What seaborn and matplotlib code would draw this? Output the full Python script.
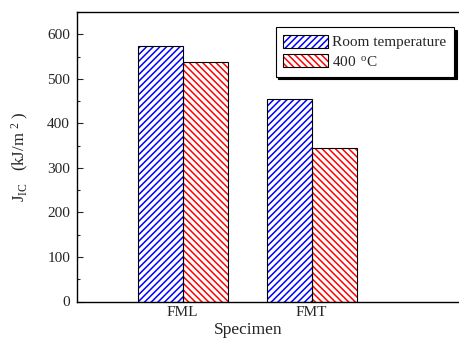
import matplotlib
matplotlib.use("Agg")
import matplotlib.pyplot as plt
import seaborn as sns
import pandas as pd
from matplotlib.patches import Patch
from matplotlib.legend_handler import HandlerTuple
from matplotlib.ticker import MultipleLocator

specimens = ["FML", "FMT"]
conditions = ["Room temperature", "400 $\\,^{\\rm o}$C"]
room_temp = [573, 454]
hot_400 = [537, 344]
colors = ["#0000ff", "#ff0000"]
hatches = ["/////", "\\\\\\\\\\"]

df = pd.DataFrame({
    "Specimen": specimens * 2,
    "Condition": [conditions[0]] * 2 + [conditions[1]] * 2,
    "J": room_temp + hot_400,
})

sns.set_theme(style="ticks")
plt.rcParams["font.family"] = ["Liberation Serif", "DejaVu Serif"]
plt.rcParams["mathtext.fontset"] = "custom"
plt.rcParams["mathtext.rm"] = "Liberation Serif"
plt.rcParams["mathtext.it"] = "Liberation Serif:italic"
plt.rcParams["hatch.linewidth"] = 1.1

fig = plt.figure(figsize=(4.6, 3.4), dpi=100)
ax = fig.add_axes([77 / 460, 38.5 / 340, 1 - 77 / 460, 289.5 / 340])

# hatched layer
sns.barplot(data=df, x="Specimen", y="J", hue="Condition", order=specimens,
            hue_order=conditions, width=0.7, ax=ax, legend=False,
            palette=["white", "white"], linewidth=0, saturation=1, gap=0)
n = len(specimens)
for i, p in enumerate(ax.patches):
    k = i // n
    p.set_facecolor("white")
    p.set_hatch(hatches[k])
    p.set_edgecolor(colors[k])
    p.set_linewidth(0)

# outline layer
npre = len(ax.patches)
sns.barplot(data=df, x="Specimen", y="J", hue="Condition", order=specimens,
            hue_order=conditions, width=0.7, ax=ax, legend=False,
            palette=["white", "white"], saturation=1, gap=0)
for p in ax.patches[npre:]:
    p.set_facecolor("none")
    p.set_edgecolor("black")
    p.set_linewidth(0.8)

ax.set_ylim(0, 650)
ax.set_xlim(-0.82, 2.15)
ax.yaxis.set_major_locator(MultipleLocator(100))
ax.yaxis.set_minor_locator(MultipleLocator(50))
ax.tick_params(axis="y", which="major", direction="in", length=4, width=0.8,
               labelsize=11, pad=5)
ax.tick_params(axis="y", which="minor", direction="in", length=2.5, width=0.8)
ax.tick_params(axis="x", length=0, labelsize=11, pad=3)
for s in ["left", "top", "bottom"]:
    ax.spines[s].set_linewidth(1.0)
    ax.spines[s].set_color("black")
ax.spines["right"].set_visible(False)

ax.set_xlabel("Specimen", fontsize=12.5)
ax.xaxis.set_label_coords((248 - 77) / 383, -0.072)
ax.set_ylabel("J$_{\\rm IC}$   (kJ/m $^{2}$ )", fontsize=12)
ax.yaxis.set_label_coords(-(77 - 31) / 383, 0.5)

handles = []
for k in range(2):
    h1 = Patch(facecolor="white", edgecolor=colors[k], hatch=hatches[k], linewidth=0)
    h2 = Patch(facecolor="none", edgecolor="black", linewidth=0.8)
    handles.append((h1, h2))
leg = ax.legend(handles, conditions, handler_map={tuple: HandlerTuple(ndivide=1)},
                loc="upper right", fancybox=False, frameon=True,
                shadow={"color": "black", "alpha": 1}, fontsize=11,
                handlelength=2.9, handleheight=0.95, handletextpad=0.3,
                borderpad=0.5, labelspacing=0.3, borderaxespad=0)
leg.get_frame().set_edgecolor("black")
leg.get_frame().set_linewidth(0.8)
leg.set_bbox_to_anchor((454 / 460, 1 - 27 / 340), transform=fig.transFigure)

fig.savefig("out.png", dpi=100)
